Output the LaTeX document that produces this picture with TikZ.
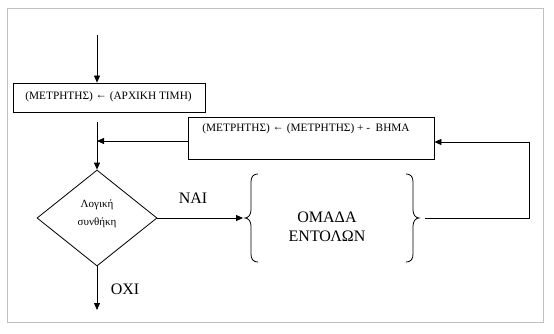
\documentclass[tikz,border=0pt]{standalone}
\usepackage{fontspec}
\setmainfont{Liberation Serif}
\usetikzlibrary{shapes.geometric,arrows.meta}
\newcommand{\larrowsym}{\raisebox{1.2pt}{←}}
\begin{document}
\begin{tikzpicture}[x=1pt,y=-1pt,line width=0.8pt,
  arr/.style={-{Triangle[length=7pt,width=6pt]}},
  boxstyle/.style={draw,rectangle,inner sep=0pt},
  small/.style={font=\fontsize{11.3}{13}\selectfont},
  big/.style={font=\fontsize{16}{19}\selectfont}]
\useasboundingbox (0,0) rectangle (554,334);
\draw[line width=1pt,draw={rgb,255:red,192;green,192;blue,192}] (7.5,8.5) rectangle (543.5,322.5);
% nodes
\coordinate (start) at (97,35);
\node[boxstyle,minimum width=192pt,minimum height=29pt] (box1) at (109,97.5) {};
\node[small,anchor=west,inner sep=0pt] (t1) at (25,97) {(ΜΕΤΡΗΤΗΣ) \larrowsym{} (ΑΡΧΙΚΗ ΤΙΜΗ)};
\node[boxstyle,minimum width=246pt,minimum height=42pt] (box2) at (311,138) {};
\node[small,anchor=west,inner sep=0pt] (t2) at (202,129) {(ΜΕΤΡΗΤΗΣ) \larrowsym{} (ΜΕΤΡΗΤΗΣ) + -\ \ ΒΗΜΑ};
\node[draw,diamond,minimum width=120pt,minimum height=96pt,inner sep=0pt,aspect=1.25] (cond) at (97,218) {};
\node[align=center,inner sep=0pt,font=\fontsize{11}{18}\selectfont] (ct) at (97,214) {Λογική\\συνθήκη};
\node[big,align=center,inner sep=0pt] (grp) at (327,226.5) {ΟΜΑΔΑ\\ΕΝΤΟΛΩΝ};
\node[big,inner sep=0pt] (nai) at (193,198) {ΝΑΙ};
\node[big,inner sep=0pt] (oxi) at (125,289) {ΟΧΙ};
\coordinate (b1) at (97,122);
\coordinate (j) at (97,141);
\coordinate (lb) at (243,218);
\coordinate (rb) at (425,218);
\coordinate (rr) at (529,218);
\coordinate (end) at (97,310);
% braces
\draw (258,174) .. controls (253,174) and (251,177) .. (251,182) -- (251,210) .. controls (251,215) and (248,218) .. (245,218) .. controls (248,218) and (251,221) .. (251,226) -- (251,254) .. controls (251,259) and (253,262) .. (258,262);
\draw (406,174) .. controls (411,174) and (413,177) .. (413,182) -- (413,210) .. controls (413,215) and (416,218) .. (419,218) .. controls (416,218) and (413,221) .. (413,226) -- (413,254) .. controls (413,259) and (411,262) .. (406,262);
% connectors
\draw[arr] (start) -- (start |- box1.north);
\draw[arr] (b1) -- (cond.north);
\draw[arr] (box2.west |- j) -- (j);
\draw[arr] (cond.east) -- (lb);
\draw[arr] (rb) -- (rr) -- (rr |- 0,142) -- (box2.east |- 0,142);
\draw[arr] (cond.south) -- (end);
\end{tikzpicture}
\end{document}
